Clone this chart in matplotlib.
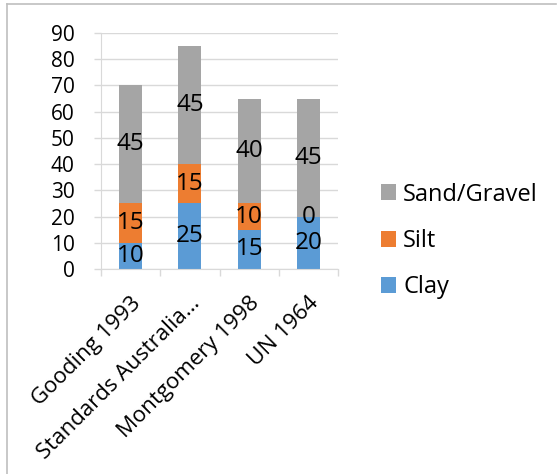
import matplotlib
matplotlib.use("Agg")
import matplotlib.pyplot as plt
from matplotlib.lines import Line2D
from matplotlib.patches import Patch
import numpy as np

plt.rcParams['font.family'] = ['Open Sans', 'DejaVu Sans']

categories = ["Gooding 1993", "Standards Australia\u2026", "Montgomery 1998", "UN 1964"]
clay = [10, 25, 15, 20]
silt = [15, 15, 10, 0]
sand_gravel = [45, 45, 40, 45]

series = [("Clay", clay, "#5B9BD5"),
          ("Silt", silt, "#ED7D31"),
          ("Sand/Gravel", sand_gravel, "#A5A5A5")]

W, H = 557, 474
fig = plt.figure(figsize=(W / 100, H / 100), dpi=100)
ax = fig.add_axes([101 / W, 1 - 269 / H, (338 - 101) / W, (269 - 33) / H])

x = np.arange(len(categories))
bottom = np.zeros(len(categories))
handles = {}
for name, vals, color in series:
    vals = np.array(vals, dtype=float)
    ax.bar(x, vals, width=0.39, bottom=bottom, color=color, zorder=2)
    handles[name] = Patch(facecolor=color)
    for xi, b, v in zip(x, bottom, vals):
        ax.text(xi, b + v / 2, f"{int(v)}", ha="center", va="center",
                fontsize=17.5, color="black", zorder=3)
    bottom += vals

ax.set_xlim(-0.5, len(categories) - 0.5)
ax.set_ylim(0, 90)
ax.set_yticks(range(0, 91, 10))
ax.yaxis.grid(True, color="#D9D9D9", linewidth=1, zorder=0)
ax.set_axisbelow(True)

for s in ["top", "right"]:
    ax.spines[s].set_visible(False)
ax.spines["left"].set_color("#D9D9D9")
ax.spines["bottom"].set_color("#D9D9D9")

ax.tick_params(axis="y", length=5, width=1, color="#D9D9D9", pad=14, labelsize=15)
ax.set_xticks(np.arange(len(categories) + 1) - 0.5, minor=True)
ax.tick_params(axis="x", which="major", length=0, pad=17, labelsize=16)
ax.tick_params(axis="x", which="minor", length=5, width=1, color="#D9D9D9")
ax.set_xticks(x)
ax.set_xticklabels(categories, rotation=45, ha="right", rotation_mode="anchor")

order = ["Sand/Gravel", "Silt", "Clay"]
fig.legend([handles[n] for n in order], order, loc="center left",
           bbox_to_anchor=(381 / W, 1 - 241 / H), frameon=False,
           borderpad=0, borderaxespad=0,
           fontsize=17, handlelength=0.64, handleheight=0.64,
           handletextpad=0.3, labelspacing=0.95)

# chart frame
fig.add_artist(Line2D([7 / W, 7 / W], [0, 1 - 4 / H], color="#BFBFBF", linewidth=1.2))
fig.add_artist(Line2D([7 / W, 556 / W], [1 - 4 / H, 1 - 4 / H], color="#BFBFBF", linewidth=1.2))

fig.savefig("out.png", dpi=100, facecolor="white")
